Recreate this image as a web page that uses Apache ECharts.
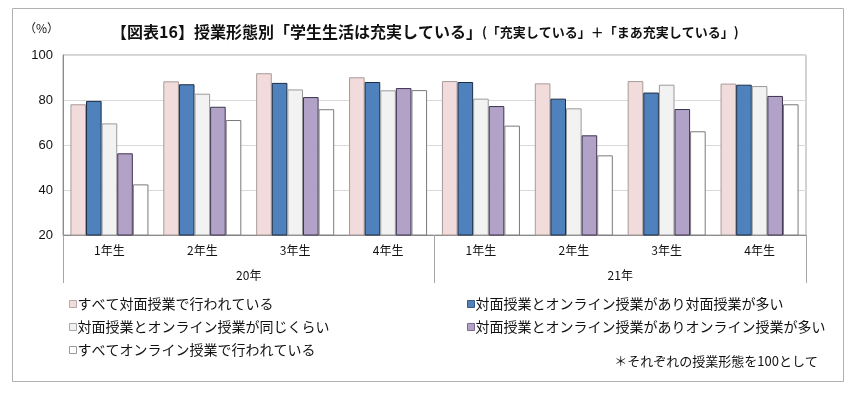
<!DOCTYPE html>
<html><head><meta charset="utf-8">
<script src="https://cdn.jsdelivr.net/npm/echarts@6/dist/echarts.min.js"></script>
<style>html,body{margin:0;padding:0;background:#fff}#c{width:856px;height:393px}</style>
</head><body><div id="c"></div>
<script>
var categories = ['1年生','2年生','3年生','4年生','1年生','2年生','3年生','4年生'];
var years = ['20年','21年'];
var seriesNames = [
  'すべて対面授業で行われている',
  '対面授業とオンライン授業があり対面授業が多い',
  '対面授業とオンライン授業が同じくらい',
  '対面授業とオンライン授業がありオンライン授業が多い',
  'すべてオンライン授業で行われている'
];
var allFace      = [78.1, 88.3, 91.9, 90.1, 88.4, 87.4, 88.4, 87.3];
var mostlyFace   = [79.6, 87.0, 87.6, 88.0, 88.0, 80.6, 83.3, 86.8];
var equalMix     = [69.6, 82.8, 84.7, 84.3, 80.6, 76.3, 86.8, 86.2];
var mostlyOnline = [56.3, 77.0, 81.3, 85.3, 77.3, 64.3, 76.0, 81.8];
var allOnline    = [42.5, 71.1, 75.9, 84.4, 68.6, 55.4, 66.1, 78.1];
var yTicks = [20, 40, 60, 80, 100];

var values = [allFace, mostlyFace, equalMix, mostlyOnline, allOnline];
var fills = ['#f2dcdb', '#4f81bd', '#f2f2f2', '#b3a2c7', '#ffffff'];
var borders = ['#a89a9a', '#1d2d45', '#9a9a9a', '#3d3550', '#7a7a7a'];
var legendBorders = ['#b8a8a8', '#3a5a85', '#a8a8a8', '#7a6a90', '#9a9a9a'];
var font = '"Noto Sans CJK JP", sans-serif';

var chart = echarts.init(document.getElementById('c'));
var series = values.map(function (v, i) {
  return {
    name: seriesNames[i], type: 'bar', data: v,
    barGap: '0%', barCategoryGap: '16%',
    itemStyle: { color: fills[i], borderColor: borders[i], borderWidth: 1 },
    emphasis: { disabled: true }
  };
});
function legendData(idx) {
  return idx.map(function (i) {
    return { name: seriesNames[i], itemStyle: { color: fills[i], borderColor: legendBorders[i], borderWidth: 1 } };
  });
}
chart.setOption({
  animation: false,
  title: {
    left: 106, top: 19,
    text: '{a|【図表16】授業形態別「学生生活は充実している」}{b|(「充実している」＋「まあ充実している」)}',
    textStyle: {
      rich: {
        a: { fontFamily: font, fontSize: 16, fontWeight: 'bold', color: '#111' },
        b: { fontFamily: font, fontSize: 13, color: '#111' }
      }
    }
  },
  grid: { left: 63, right: 50, top: 55, bottom: 158, show: true, borderColor: '#a6a6a6', borderWidth: 1 },
  legend: [
    {
      data: legendData([0, 2, 4]),
      orient: 'vertical', left: 64, top: 292, itemGap: 9,
      itemWidth: 7, itemHeight: 7, icon: 'rect',
      textStyle: { fontFamily: font, fontSize: 14, color: '#111', padding: [0, 0, 0, -4] }
    },
    {
      data: legendData([1, 3]),
      orient: 'vertical', left: 462, top: 292, itemGap: 9,
      itemWidth: 7, itemHeight: 7, icon: 'rect',
      textStyle: { fontFamily: font, fontSize: 14, color: '#111', padding: [0, 0, 0, -4] }
    }
  ],
  xAxis: [
    {
      type: 'category', data: categories, position: 'bottom',
      axisLine: { lineStyle: { color: '#8c8c8c' } },
      axisTick: { show: false },
      axisLabel: { margin: 9, fontFamily: font, fontSize: 12, color: '#111' }
    },
    {
      type: 'category', data: years, position: 'bottom',
      axisLine: { show: false },
      axisTick: { show: true, length: 48, lineStyle: { color: '#a6a6a6' } },
      axisLabel: { margin: 34, fontFamily: font, fontSize: 12, color: '#111' }
    }
  ],
  yAxis: {
    type: 'value', min: yTicks[0], max: yTicks[yTicks.length - 1], interval: 20,
    axisLine: { show: true, lineStyle: { color: '#8c8c8c' } },
    axisTick: { show: false },
    splitLine: { lineStyle: { color: '#d9d9d9' } },
    axisLabel: { margin: 10, fontFamily: '"Liberation Sans", Arial, sans-serif', fontSize: 13, color: '#111' }
  },
  series: series,
  graphic: [
    { type: 'rect', shape: { x: 12.5, y: 8.5, width: 831, height: 373 }, style: { fill: 'none', stroke: '#b0b0b0', lineWidth: 1 }, silent: true, z: -1 },
    { type: 'text', left: 24, top: 22, style: { text: '（%）', fontFamily: font, fontSize: 12, fill: '#111' } },
    { type: 'text', right: 38, top: 355, style: { text: '＊それぞれの授業形態を100として', fontFamily: font, fontSize: 13, fill: '#111' } }
  ]
});
</script></body></html>
